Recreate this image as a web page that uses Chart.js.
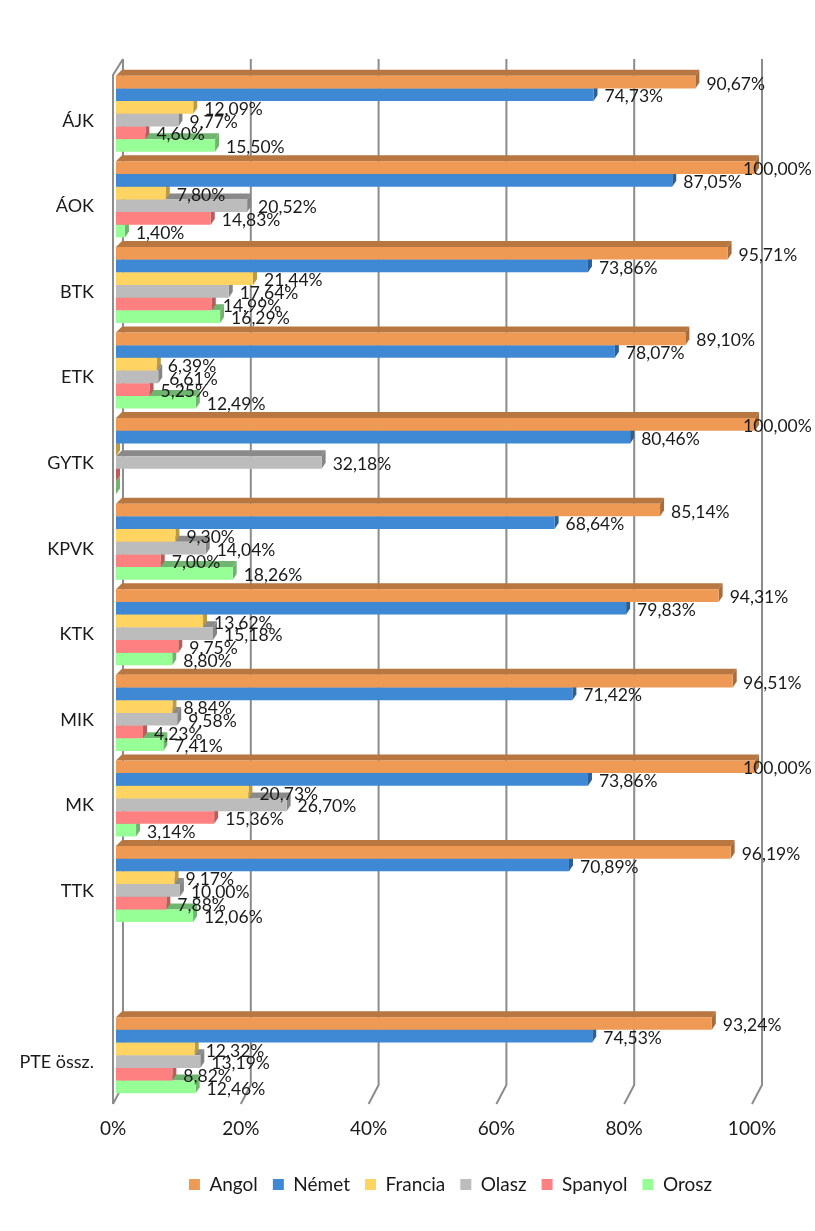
<!DOCTYPE html>
<html>
<head>
<meta charset="utf-8">
<style>
  html, body { margin: 0; padding: 0; background: #fff; }
  canvas { display: block; }
</style>
<script src="https://cdn.jsdelivr.net/npm/chart.js@4"></script>
</head>
<body>
<canvas id="c" width="815" height="1231"></canvas>
<script>
// kategóriák és nyelvek (az üres sor a TTK és a PTE össz. között üres kategória)
const categories = ['ÁJK', 'ÁOK', 'BTK', 'ETK', 'GYTK', 'KPVK', 'KTK', 'MIK', 'MK', 'TTK', '', 'PTE össz.'];
const angol   = [90.67, 100, 95.71, 89.10, 100, 85.14, 94.31, 96.51, 100, 96.19, null, 93.24];
const nemet   = [74.73, 87.05, 73.86, 78.07, 80.46, 68.64, 79.83, 71.42, 73.86, 70.89, null, 74.53];
const francia = [12.09, 7.80, 21.44, 6.39, 0, 9.30, 13.62, 8.84, 20.73, 9.17, null, 12.32];
const olasz   = [9.77, 20.52, 17.64, 6.61, 32.18, 14.04, 15.18, 9.58, 26.70, 10.00, null, 13.19];
const spanyol = [4.60, 14.83, 14.99, 5.25, 0, 7.00, 9.75, 4.23, 15.36, 7.88, null, 8.82];
const orosz   = [15.50, 1.40, 16.29, 12.49, 0, 18.26, 8.80, 7.41, 3.14, 12.06, null, 12.46];

const FONT = 'Lato, sans-serif';
const fmt = v => v.toFixed(2).replace('.', ',') + '%';

function ds(label, data, front, top, side) {
  return { label, data, backgroundColor: front, topColor: top, sideColor: side,
    barPercentage: 1, categoryPercentage: 0.889 };
}

// a 3D hatás: felső és oldalsó lap minden sáv mögé
const bar3d = {
  id: 'bar3d',
  beforeDatasetDraw(chart, args) {
    const d = chart.data.datasets[args.index], ctx = chart.ctx;
    const dxLeft = 6, dx = 4, dy = 6;
    args.meta.data.forEach((b, i) => {
      if (d.data[i] == null) return;
      const h = b.height / 2, t = b.y - h, bt = b.y + h;
      ctx.fillStyle = d.topColor;
      ctx.beginPath();
      ctx.moveTo(b.base, t); ctx.lineTo(b.base + dxLeft, t - dy); ctx.lineTo(Math.max(b.x + dx, b.base + dxLeft), t - dy); ctx.lineTo(b.x, t);
      ctx.closePath(); ctx.fill();
      ctx.fillStyle = d.sideColor;
      ctx.beginPath();
      ctx.moveTo(b.x, t); ctx.lineTo(b.x + dx, t - dy); ctx.lineTo(b.x + dx, bt - dy); ctx.lineTo(b.x, bt);
      ctx.closePath(); ctx.fill();
    });
  }
};

// hátsó fal rácsvonalai és a padló ferde vonalai
const wall = {
  id: 'wall',
  beforeDatasetsDraw(chart) {
    const ctx = chart.ctx, xs = chart.scales.x, a = chart.chartArea;
    const backTop = 59, backBottom = a.bottom - 13, frontBottom = a.bottom + 6;
    ctx.save();
    ctx.strokeStyle = '#8c8c8c';
    ctx.lineWidth = 2;
    xs.ticks.forEach(t => {
      const x = xs.getPixelForValue(t.value);
      ctx.beginPath();
      ctx.moveTo(x + 7, backTop); ctx.lineTo(x + 7, backBottom); ctx.lineTo(x - 3, frontBottom);
      ctx.stroke();
    });
    const x0 = xs.getPixelForValue(0) - 3;
    ctx.beginPath();
    ctx.moveTo(x0 + 10, backTop); ctx.lineTo(x0, a.top + 4); ctx.lineTo(x0, frontBottom);
    ctx.stroke();
    ctx.restore();
  }
};

// adatfeliratok a sávok végén
const valueLabels = {
  id: 'valueLabels',
  afterDatasetsDraw(chart) {
    const ctx = chart.ctx;
    ctx.save();
    ctx.font = '17.5px ' + FONT;
    ctx.fillStyle = '#1a1a1a';
    ctx.textBaseline = 'middle';
    ctx.textAlign = 'left';
    chart.data.datasets.forEach((d, di) => {
      chart.getDatasetMeta(di).data.forEach((b, i) => {
        const v = d.data[i];
        if (!v) return;
        ctx.fillText(fmt(v), Math.min(b.x + 11, 743), b.y + 2);
      });
    });
    ctx.restore();
  }
};

// a jelmagyarázat a rajzterülethez képest jobbra áll
const legendShift = {
  id: 'legendShift',
  afterLayout(chart) { chart.legend.left += 73; chart.legend.right += 73; }
};

new Chart(document.getElementById('c'), {
  type: 'bar',
  data: {
    labels: categories,
    datasets: [
      ds('Angol', angol, '#ee9a55', '#b87640', '#a86d3c'),
      ds('Német', nemet, '#3f88d4', '#2f659c', '#2a5f97'),
      ds('Francia', francia, '#ffd462', '#ba9a45', '#ba9a45'),
      ds('Olasz', olasz, '#bcbcbc', '#8a8a8a', '#858585'),
      ds('Spanyol', spanyol, '#ff8080', '#ba5c5c', '#ba5c5c'),
      ds('Orosz', orosz, '#96ff96', '#6fb56f', '#6fb56f')
    ]
  },
  options: {
    indexAxis: 'y',
    responsive: false,
    animation: false,
    layout: { padding: { top: 71, right: 60, bottom: 27, left: 0 } },
    plugins: {
      legend: {
        position: 'bottom',
        labels: { boxWidth: 11, boxHeight: 11, padding: 15, color: '#1a1a1a', font: { family: FONT, size: 19 } }
      },
      tooltip: { enabled: false }
    },
    scales: {
      x: {
        min: 0, max: 100,
        grid: { display: false, drawTicks: false },
        border: { display: false },
        afterFit(s) { s.height = 62; },
        ticks: { stepSize: 20, padding: 19, labelOffset: -3, maxRotation: 0, color: '#1a1a1a',
          font: { family: FONT, size: 19 }, callback: v => v + '%' }
      },
      y: {
        grid: { display: false, drawTicks: false },
        border: { display: false },
        afterFit(s) { s.width = 116; },
        ticks: { padding: 22, labelOffset: 7, autoSkip: false, color: '#1a1a1a',
          font: { family: FONT, size: 18 } }
      }
    }
  },
  plugins: [wall, bar3d, valueLabels, legendShift]
});
</script>
</body>
</html>
